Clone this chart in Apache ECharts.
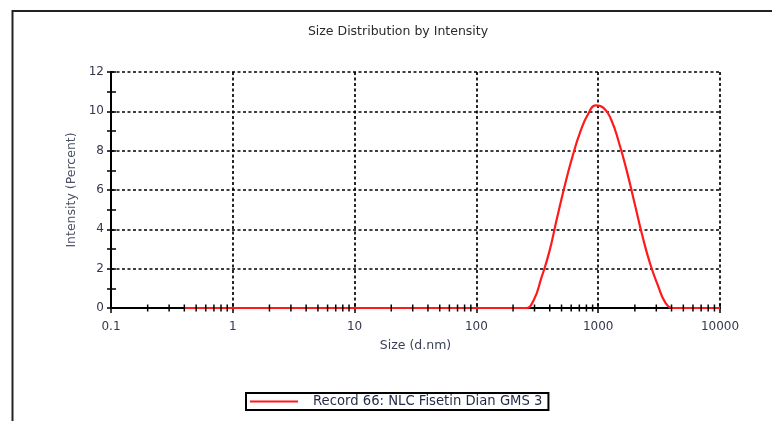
<!DOCTYPE html>
<html>
<head>
<meta charset="utf-8">
<title>Size Distribution by Intensity</title>
<script src="https://cdn.jsdelivr.net/npm/echarts@6/dist/echarts.min.js"></script>
<style>
  html, body { margin: 0; padding: 0; background: #fff; }
  #chart { width: 772px; height: 421px; }
</style>
</head>
<body>
<div id="chart"></div>
<script>
// Size classes (d.nm), log-spaced from 0.4 to 10000
const sizes = [
  0.4, 0.4632, 0.5365, 0.6213, 0.7195, 0.8332, 0.9649, 1.117, 1.294, 1.499,
  1.736, 2.010, 2.328, 2.696, 3.122, 3.615, 4.187, 4.849, 5.615, 6.503,
  7.531, 8.721, 10.10, 11.70, 13.54, 15.69, 18.17, 21.04, 24.36, 28.21,
  32.67, 37.84, 43.82, 50.75, 58.77, 68.06, 78.82, 91.28, 105.7, 122.4,
  141.8, 164.2, 190.1, 220.2, 255.0, 295.3, 342.0, 396.1, 458.7, 531.2,
  615.1, 712.4, 825.0, 955.4, 1106, 1281, 1484, 1718, 1990, 2305,
  2669, 3091, 3580, 4145, 4801, 5560, 6439, 7456, 8635, 10000
];

// Intensity (Percent) for each size class
const intensity = [
  0, 0, 0, 0, 0, 0, 0, 0, 0, 0,
  0, 0, 0, 0, 0, 0, 0, 0, 0, 0,
  0, 0, 0, 0, 0, 0, 0, 0, 0, 0,
  0, 0, 0, 0, 0, 0, 0, 0, 0, 0,
  0, 0, 0, 0, 0, 0.4, 1.54, 2.84, 4.56, 6.22,
  7.7, 8.95, 9.85, 10.3, 10.18, 9.56, 8.39, 6.96, 5.33, 3.67,
  2.25, 1.15, 0.25, 0, 0, 0, 0, 0, 0, 0
];

const seriesName = 'Record 66: NLC Fisetin Dian GMS 3';

// Decade labels on the size axis
const xTickLabels = { 0.1: '0.1', 1: '1', 10: '10', 100: '100', 1000: '1000', 10000: '10000' };

// Intermediate log ticks (2..9 within each decade)
const xMinorTicks = [
  0.2, 0.3, 0.4, 0.5, 0.6, 0.7, 0.8, 0.9,
  2, 3, 4, 5, 6, 7, 8, 9,
  20, 30, 40, 50, 60, 70, 80, 90,
  200, 300, 400, 500, 600, 700, 800, 900,
  2000, 3000, 4000, 5000, 6000, 7000, 8000, 9000
];

const FONT = 'DejaVu Sans';
const RED = '#ff1a1a';
const gridLine = { color: '#000', width: 1.7, type: [3, 2.5] };

const chart = echarts.init(document.getElementById('chart'), null, { renderer: 'canvas' });

chart.setOption({
  backgroundColor: '#fff',
  animation: false,
  title: {
    text: 'Size Distribution by Intensity',
    left: 393,
    top: 20,
    textAlign: 'center',
    textStyle: { fontFamily: FONT, fontSize: 12.5, fontWeight: 'normal', color: '#2a2a2a' }
  },
  graphic: [{
    type: 'rect',
    shape: { x: 12.5, y: 11, width: 800, height: 500 },
    style: { fill: 'none', stroke: '#222', lineWidth: 2 },
    silent: true
  }],
  legend: {
    data: [{ name: seriesName, icon: 'rect' }],
    left: 246,
    top: 393,
    padding: [2, 6, 2, 4],
    borderColor: '#000',
    borderWidth: 2,
    itemWidth: 48,
    itemHeight: 2,
    itemStyle: { color: RED },
    textStyle: { fontFamily: FONT, fontSize: 13.2, color: '#1f2a44', padding: [0, 0, 0, 10] }
  },
  grid: { left: 111, right: 52, top: 72, bottom: 113, containLabel: false },
  xAxis: [{
    type: 'log',
    logBase: 10,
    min: 0.1,
    max: 10000,
    name: 'Size (d.nm)',
    nameLocation: 'middle',
    nameGap: 31,
    nameTextStyle: { fontFamily: FONT, fontSize: 12.5, color: '#3c4257' },
    axisLine: { lineStyle: { color: '#000', width: 2 } },
    axisTick: { show: true, inside: false, length: 5, lineStyle: { color: '#000', width: 1.5 } },
    axisLabel: {
      margin: 13,
      fontFamily: FONT, fontSize: 12, color: '#33384d',
      formatter: v => xTickLabels[v] !== undefined ? xTickLabels[v] : ''
    },
    splitLine: { show: true, lineStyle: gridLine }
  }, {
    type: 'log',
    logBase: 10,
    min: 0.1,
    max: 10000,
    position: 'bottom',
    offset: 0,
    axisLine: { show: false },
    axisTick: { show: true, inside: true, length: 4, lineStyle: { color: '#000', width: 1.5 } },
    axisLabel: { show: false },
    splitLine: { show: false }
  }],
  yAxis: [{
    type: 'value',
    min: 0,
    max: 12,
    interval: 2,
    name: 'Intensity (Percent)',
    nameLocation: 'middle',
    nameGap: 30,
    nameTextStyle: { fontFamily: FONT, fontSize: 12.5, color: '#4a5066' },
    axisLine: { show: true, lineStyle: { color: '#000', width: 2 } },
    axisTick: { show: true, inside: false, length: 4, lineStyle: { color: '#000', width: 1.5 } },
    minorTick: { show: true, splitNumber: 2, length: 4, lineStyle: { color: '#000', width: 1.5 } },
    axisLabel: { margin: 7, fontFamily: FONT, fontSize: 12, color: '#33384d' },
    splitLine: { show: true, lineStyle: gridLine }
  }, {
    type: 'value',
    min: 0,
    max: 12,
    interval: 2,
    position: 'left',
    offset: 0,
    axisLine: { show: false },
    axisTick: { show: true, inside: true, length: 5, lineStyle: { color: '#000', width: 1.5 } },
    minorTick: { show: true, splitNumber: 2, length: 5, lineStyle: { color: '#000', width: 1.5 } },
    axisLabel: { show: false },
    splitLine: { show: false }
  }],
  series: [{
    name: seriesName,
    type: 'line',
    xAxisIndex: 0,
    yAxisIndex: 0,
    data: sizes.map((s, i) => [s, intensity[i]]),
    symbol: 'none',
    smooth: 0.5,
    lineStyle: { color: RED, width: 2.2 },
    itemStyle: { color: RED },
    z: 3
  }, {
    // short crossing marks at the intermediate log positions
    type: 'custom',
    xAxisIndex: 0,
    yAxisIndex: 0,
    silent: true,
    clip: false,
    z: 5,
    data: xMinorTicks.map(v => [v, 0]),
    renderItem: (params, api) => {
      const p = api.coord([api.value(0), api.value(1)]);
      return {
        type: 'line',
        shape: { x1: p[0], y1: p[1] - 3.5, x2: p[0], y2: p[1] + 3.5 },
        style: { stroke: '#000', lineWidth: 1.5 }
      };
    }
  }]
});
</script>
</body>
</html>
